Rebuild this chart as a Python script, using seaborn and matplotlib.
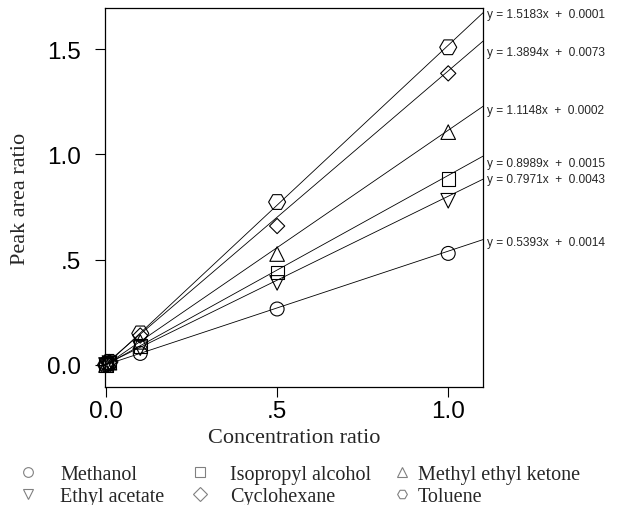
import numpy as np
import pandas as pd
import seaborn as sns
import matplotlib.pyplot as plt
from matplotlib.lines import Line2D

# concentration ratios and measured peak-area ratios
conc = [0.0, 0.01, 0.1, 0.5, 1.0]
methanol = [0.0, 0.006, 0.055, 0.266, 0.530]
isopropyl = [0.0, 0.010, 0.090, 0.440, 0.883]
mek = [0.0, 0.011, 0.110, 0.527, 1.106]
ethyl_acetate = [0.0, 0.009, 0.080, 0.390, 0.780]
cyclohexane = [0.0, 0.014, 0.140, 0.660, 1.385]
toluene = [0.0, 0.015, 0.150, 0.774, 1.509]

names = ['Methanol', 'Isopropyl alcohol', 'Methyl ethyl ketone',
         'Ethyl acetate', 'Cyclohexane', 'Toluene']
series = [methanol, isopropyl, mek, ethyl_acetate, cyclohexane, toluene]
slopes = [0.5393, 0.8989, 1.1148, 0.7971, 1.3894, 1.5183]
intercepts = [0.0014, 0.0015, 0.0002, 0.0043, 0.0073, 0.0001]

markers = {'Methanol': 'o', 'Isopropyl alcohol': 's', 'Methyl ethyl ketone': '^',
           'Ethyl acetate': 'v', 'Cyclohexane': 'D', 'Toluene': 'H'}
msize = {'Methanol': 100, 'Isopropyl alcohol': 90, 'Methyl ethyl ketone': 110,
         'Ethyl acetate': 110, 'Cyclohexane': 60, 'Toluene': 150}
# vertical nudge of the equation labels (points)
label_nudge = [-2, -5, -3, 0, -8, -1]

df = pd.DataFrame([(c, v, n) for n, s in zip(names, series) for c, v in zip(conc, s)],
                  columns=['conc', 'ratio', 'solvent'])

sns.set_theme(style='white')
plt.rcParams['font.family'] = ['Liberation Sans', 'DejaVu Sans']

fig = plt.figure(figsize=(6.25, 5.06), dpi=100)
ax = fig.add_axes([0.168, 0.233, 0.605, 0.749])

xmax = 1.102
for n, m, b in zip(names, slopes, intercepts):
    ax.plot([0, xmax], [b, m * xmax + b], color='black', lw=0.6, zorder=2)

for n in names:
    sns.scatterplot(data=df[df.solvent == n], x='conc', y='ratio', marker=markers[n],
                    s=msize[n], facecolor='none', edgecolor='black', linewidth=0.8,
                    legend=False, clip_on=False, zorder=3, ax=ax)

for n, m, b, dy in zip(names, slopes, intercepts, label_nudge):
    ax.annotate(f'y = {m:.4f}x  +  {b:.4f}', xy=(xmax, m * xmax + b),
                xytext=(3, dy), textcoords='offset points', va='center',
                ha='left', fontsize=8.6, annotation_clip=False)

ax.set_xlim(-0.003, xmax)
ax.set_ylim(-0.105, 1.695)
ax.set_xticks([0, 0.5, 1.0], ['0.0', '.5', '1.0'])
ax.set_yticks([0, 0.5, 1.0, 1.5], ['0.0', '.5', '1.0', '1.5'])
ax.tick_params(axis='both', which='both', direction='out', length=7.5, width=0.8,
               labelsize=17.5, left=True, bottom=True, colors='black')
ax.tick_params(axis='y', pad=10)
ax.tick_params(axis='x', pad=2)
for sp in ax.spines.values():
    sp.set_color('black')
    sp.set_linewidth(0.9)

ax.set_xlabel('Concentration ratio', family='Liberation Serif', fontsize=16, labelpad=4)
ax.set_ylabel('Peak area ratio', family='Liberation Serif', fontsize=16, labelpad=12)

# legend: three columns, each placed on its own
columns = [(['Methanol', 'Ethyl acetate'], 0.0288, 1.1),
           (['Isopropyl alcohol', 'Cyclohexane'], 0.304, 1.0),
           (['Methyl ethyl ketone', 'Toluene'], 0.627, 0.3)]
for labels, x0, pad in columns:
    handles = [Line2D([], [], ls='none', marker=markers[n], markersize=7,
                      markerfacecolor='none', markeredgecolor='0.5', markeredgewidth=0.8)
               for n in labels]
    fig.legend(handles, labels, loc='center left', bbox_to_anchor=(x0, 0.039),
               frameon=False, prop={'family': 'Liberation Serif', 'size': 14.5},
               handlelength=1.0, handletextpad=pad, labelspacing=0.15,
               borderpad=0, borderaxespad=0)

fig.savefig('out.png', dpi=100)
